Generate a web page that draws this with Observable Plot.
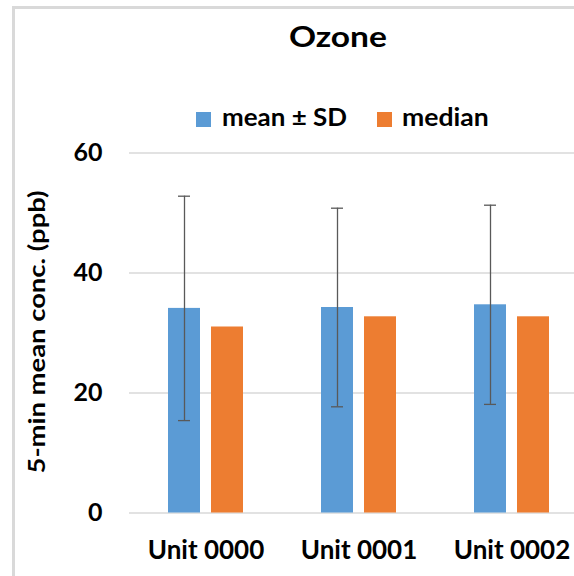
<!DOCTYPE html>
<html>
<head>
<meta charset="utf-8">
<script src="https://cdn.jsdelivr.net/npm/d3@7"></script>
<script src="https://cdn.jsdelivr.net/npm/@observablehq/plot@0.6"></script>
<style>
  html, body { margin: 0; padding: 0; background: #fff; }
  #wrap { position: relative; width: 574px; height: 576px; overflow: hidden; background: #fff; font-family: Lato, "Open Sans", sans-serif; color: #000; }
  #frame { position: absolute; left: 12px; top: 6px; width: 700px; height: 700px; border: 3px solid #d9d9d9; box-sizing: border-box; }
  .txt { position: absolute; white-space: nowrap; font-weight: bold; line-height: 1; }
  .sw { position: absolute; width: 15px; height: 15px; }
  #chart { position: absolute; left: 0; top: 130px; }
</style>
</head>
<body>
<div id="wrap">
  <div id="frame"></div>
  <div id="chart"></div>
</div>
<script>
const chartTitle = "Ozone";
const yAxisLabel = "5-min mean conc. (ppb)";
const units = ["Unit 0000", "Unit 0001", "Unit 0002"];
const seriesNames = ["mean ± SD", "median"];
const seriesColors = ["#5B9BD5", "#ED7D31"];
const meanValues = [34.1, 34.25, 34.7];
const sdValues = [18.7, 16.55, 16.6];
const medianValues = [31.0, 32.7, 32.7];
const yTicks = [0, 20, 40, 60];

const wrap = document.getElementById("wrap");

// place a text whose left edge (or centre) and baseline are given, stretched to a target width
function placeText(str, size, x, baseline, targetW, opts = {}) {
  const el = document.createElement("div");
  el.className = "txt";
  el.textContent = str;
  el.style.fontSize = size + "px";
  wrap.appendChild(el);
  const w = el.getBoundingClientRect().width;
  const k = targetW / w;
  const top = baseline - size * 0.887;
  if (opts.rotate) {
    // x, baseline used as centre of rotated text
    const h = el.getBoundingClientRect().height;
    el.style.left = (x - w / 2) + "px";
    el.style.top = (baseline - h / 2) + "px";
    el.style.transformOrigin = "50% 50%";
    el.style.transform = `rotate(-90deg) scaleX(${k})`;
  } else if (opts.center) {
    el.style.left = (x - w / 2) + "px";
    el.style.top = top + "px";
    el.style.transformOrigin = "50% 0";
    el.style.transform = `scaleX(${k})`;
  } else {
    el.style.left = x + "px";
    el.style.top = top + "px";
    el.style.transformOrigin = "0 0";
    el.style.transform = `scaleX(${k})`;
  }
  return el;
}

placeText(chartTitle, 28, 337.5, 46.7, 98, { center: true });

const legendLayout = [
  { sx: 196, tx: 221.7, w: 125 },
  { sx: 377.3, tx: 401.7, w: 86.7 }
];
seriesNames.forEach((s, i) => {
  const sw = document.createElement("div");
  sw.className = "sw";
  sw.style.left = legendLayout[i].sx + "px";
  sw.style.top = "111.7px";
  sw.style.background = seriesColors[i];
  wrap.appendChild(sw);
  placeText(s, 24, legendLayout[i].tx, 126.3, legendLayout[i].w);
});

placeText(yAxisLabel, 22, 37, 332, 283, { rotate: true });

const rows = units.flatMap((u, i) => [
  { unit: u, series: seriesNames[0], value: meanValues[i] },
  { unit: u, series: seriesNames[1], value: medianValues[i] }
]);
const errRows = units.map((u, i) => ({
  unit: u, series: seriesNames[0],
  lo: meanValues[i] - sdValues[i], hi: meanValues[i] + sdValues[i]
}));

const plot = Plot.plot({
  width: 588,
  height: 446,
  marginLeft: 129,
  marginRight: 0,
  marginTop: 22.5,
  marginBottom: 63.5,
  style: { fontFamily: "Lato, 'Open Sans', sans-serif", overflow: "visible", maxWidth: "none", background: "transparent", color: "#000" },
  fx: { domain: units, padding: 0, label: null },
  x: { domain: seriesNames, paddingInner: 0.245, paddingOuter: 0.873, axis: null },
  y: { domain: [0, 60], label: null },
  color: { domain: seriesNames, range: seriesColors },
  marks: [
    Plot.gridY(yTicks, { stroke: "#d9d9d9", strokeOpacity: 1, strokeWidth: 1.4 }),
    Plot.barY(rows, { fx: "unit", x: "series", y: "value", fill: "series" }),
    Plot.ruleX(errRows, { fx: "unit", x: "series", y1: "lo", y2: "hi", stroke: "#595959", strokeWidth: 1.3 }),
    Plot.tickY(errRows, { fx: "unit", x: "series", y: "hi", stroke: "#595959", strokeWidth: 1.3, insetLeft: 10, insetRight: 10 }),
    Plot.tickY(errRows, { fx: "unit", x: "series", y: "lo", stroke: "#595959", strokeWidth: 1.3, insetLeft: 10, insetRight: 10 }),
    Plot.axisY(yTicks, { tickSize: 0, tickPadding: 27, fontSize: 25, fontWeight: "bold", label: null }),
    Plot.axisFx({ anchor: "bottom", tickSize: 0, tickPadding: 28, fontSize: 26, fontWeight: "bold", label: null })
  ]
});
document.getElementById("chart").appendChild(plot);
</script>
</body>
</html>
